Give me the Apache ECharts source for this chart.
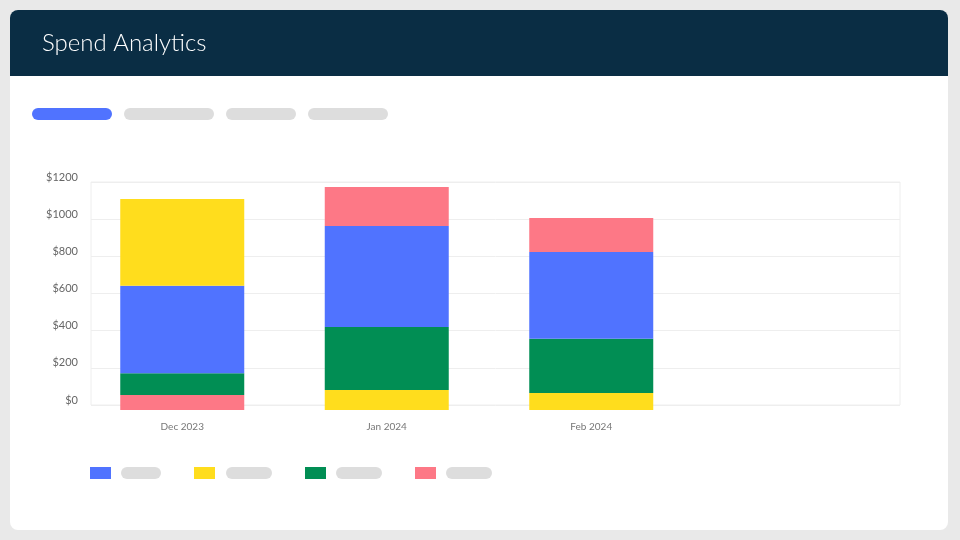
<!DOCTYPE html>
<html>
<head>
<meta charset="utf-8">
<title>Spend Analytics</title>
<script src="https://cdn.jsdelivr.net/npm/echarts@6/dist/echarts.min.js"></script>
<style>
  html, body { margin: 0; padding: 0; background: #e9e9e9; }
  #chart { width: 960px; height: 540px; }
</style>
</head>
<body>
<div id="chart"></div>
<script>
// data
const months = ['Dec 2023', 'Jan 2024', 'Feb 2024', ''];
const yTicks = [0, 200, 400, 600, 800, 1000, 1200];

const blueVals = [470, 543, 467];
const yellowVals = [468, 108, 91];
const greenVals = [117, 339, 292];
const pinkVals = [81, 215, 183];

const colors = {
  blue: '#5073ff',
  yellow: '#ffdd1d',
  green: '#018e54',
  pink: '#fd7886'
};

// stacking order, bottom to top, for each month
const stackOrder = [
  ['pink', 'green', 'blue', 'yellow'],
  ['yellow', 'green', 'blue', 'pink'],
  ['yellow', 'green', 'blue', 'pink']
];

const valuesByColor = { blue: blueVals, yellow: yellowVals, green: greenVals, pink: pinkVals };

// build one stacked layer per position, coloured per item
const layers = [0, 1, 2, 3].map(k => ({
  type: 'bar',
  stack: 'spend',
  xAxisIndex: 1,
  yAxisIndex: 1,
  barWidth: 124,
  silent: true,
  data: stackOrder.map((order, i) => ({
    value: valuesByColor[order[k]][i],
    itemStyle: { color: colors[order[k]] }
  }))
}));

// fake legend / tab placeholders
const tabs = [
  { x: 32, w: 80, fill: '#5073ff' },
  { x: 124, w: 90, fill: '#dddddd' },
  { x: 226, w: 70, fill: '#dddddd' },
  { x: 308, w: 80, fill: '#dddddd' }
];
const legendItems = [
  { color: colors.blue, x: 90, pillX: 121, pillW: 40 },
  { color: colors.yellow, x: 194, pillX: 226, pillW: 46 },
  { color: colors.green, x: 305, pillX: 336, pillW: 46 },
  { color: colors.pink, x: 415, pillX: 446, pillW: 46 }
];

const graphics = [
  { type: 'rect', z: -10, shape: { x: 10, y: 10, width: 938, height: 520, r: 8 }, style: { fill: '#ffffff' } },
  { type: 'rect', z: -9, shape: { x: 10, y: 10, width: 938, height: 66, r: [8, 8, 0, 0] }, style: { fill: '#0a2d44' } },
  { type: 'text', z: 10, x: 42, y: 43, style: { text: 'Spend Analytics', fill: '#ffffff', font: '300 24px Lato', verticalAlign: 'middle' } }
];
tabs.forEach(t => graphics.push({
  type: 'rect', z: 10, shape: { x: t.x, y: 108, width: t.w, height: 12, r: 6 }, style: { fill: t.fill }
}));
legendItems.forEach(l => {
  graphics.push({ type: 'rect', z: 10, shape: { x: l.x, y: 467, width: 21, height: 12 }, style: { fill: l.color } });
  graphics.push({ type: 'rect', z: 10, shape: { x: l.pillX, y: 467, width: l.pillW, height: 12, r: 6 }, style: { fill: '#dddddd' } });
});

const chart = echarts.init(document.getElementById('chart'));
chart.setOption({
  backgroundColor: '#e9e9e9',
  animation: false,
  textStyle: { fontFamily: 'Lato' },
  graphic: graphics,
  grid: [
    // frame with gridlines and $ labels
    { left: 91, right: 60, top: 182, bottom: 135, show: true, borderColor: '#eeeeee', borderWidth: 1 },
    // bars sit a few px below the $0 line, same scale
    { left: 80, right: 62, top: 187, bottom: 130 }
  ],
  xAxis: [
    { gridIndex: 0, type: 'category', data: months, show: false },
    {
      gridIndex: 1,
      type: 'category',
      data: months,
      axisLine: { show: false },
      axisTick: { show: false },
      axisLabel: { color: '#777777', fontSize: 10, margin: 12 }
    }
  ],
  yAxis: [
    {
      gridIndex: 0,
      type: 'value',
      min: yTicks[0],
      max: yTicks[yTicks.length - 1],
      interval: 200,
      axisLine: { show: false },
      axisTick: { show: false },
      splitLine: { lineStyle: { color: '#eeeeee' } },
      axisLabel: {
        color: '#666666', fontSize: 11, margin: 13,
        verticalAlign: 'bottom', lineHeight: 10,
        formatter: v => '$' + v
      }
    },
    { gridIndex: 1, type: 'value', min: 0, max: 1200, show: false }
  ],
  series: layers
});
</script>
</body>
</html>
